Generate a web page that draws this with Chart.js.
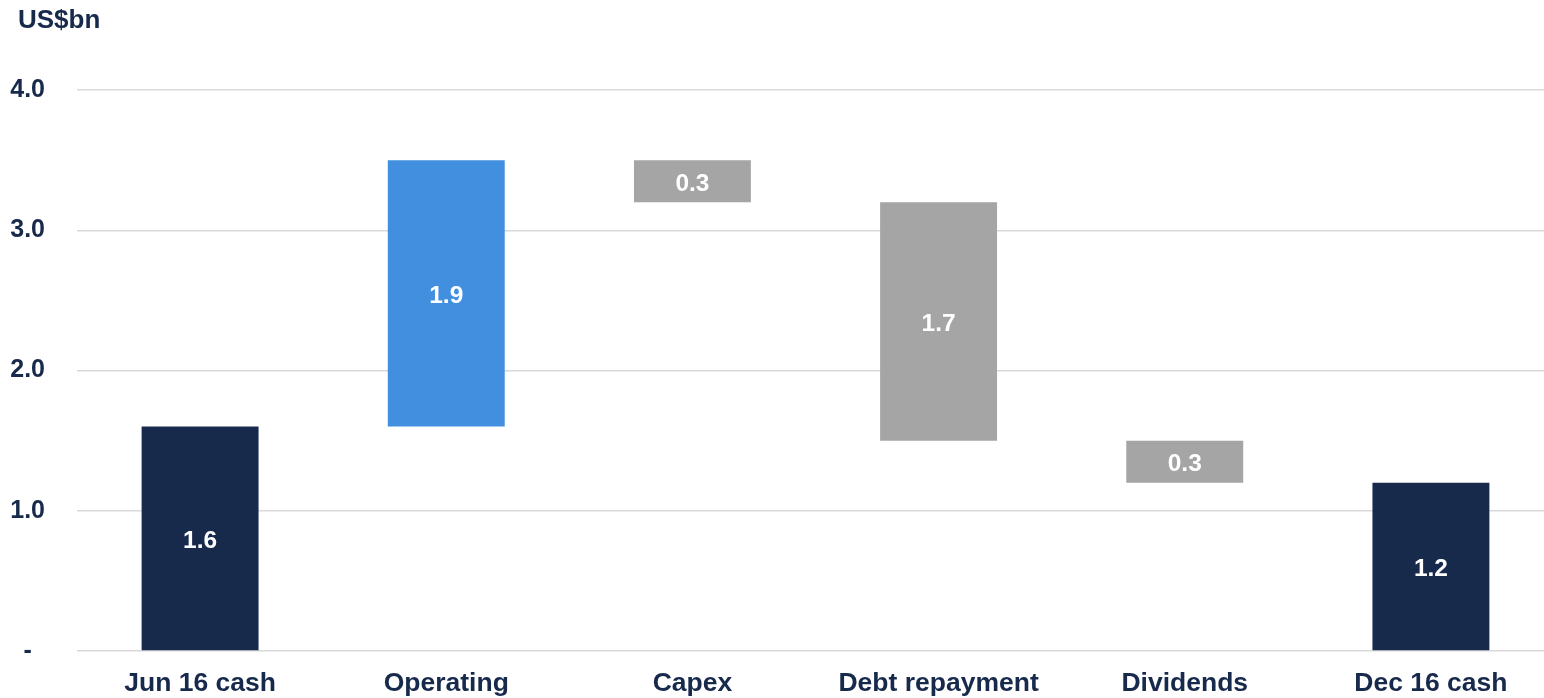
<!DOCTYPE html>
<html>
<head>
<meta charset="utf-8">
<script src="https://cdn.jsdelivr.net/npm/chart.js@4/dist/chart.umd.min.js"></script>
<style>
  html, body { margin: 0; padding: 0; overflow: hidden; background: #ffffff; width: 1544px; height: 698px; }
  #wrap { width: 1554px; height: 698px; }
</style>
</head>
<body>
<div id="wrap"><canvas id="c" width="1554" height="698"></canvas></div>
<script>
const categories = ['Jun 16 cash', 'Operating', 'Capex', 'Debt repayment', 'Dividends', 'Dec 16 cash'];
const barStart = [0, 1.6, 3.2, 1.5, 1.2, 0];
const barEnd = [1.6, 3.5, 3.5, 3.2, 1.5, 1.2];
const valueLabels = ['1.6', '1.9', '0.3', '1.7', '0.3', '1.2'];
const barColors = ['#172A4C', '#418FDE', '#A5A5A5', '#A5A5A5', '#A5A5A5', '#172A4C'];
const yTicks = [0, 1, 2, 3, 4];
const unitLabel = 'US$bn';

const NAVY = '#172A4C';
const FONT = "'Liberation Sans', Arial, Helvetica, sans-serif";

const floatData = categories.map((c, i) => [barStart[i], barEnd[i]]);

const labelPlugin = {
  id: 'barLabels',
  afterDatasetsDraw(chart) {
    const ctx = chart.ctx;
    const meta = chart.getDatasetMeta(0);
    ctx.save();
    ctx.fillStyle = '#ffffff';
    ctx.font = 'bold 24.5px ' + FONT;
    ctx.textAlign = 'center';
    ctx.textBaseline = 'middle';
    meta.data.forEach((bar, i) => {
      const p = bar.getProps(['x', 'y', 'base'], true);
      ctx.fillText(valueLabels[i], p.x, (p.y + p.base) / 2 + 3);
    });
    ctx.restore();
  }
};

const unitPlugin = {
  id: 'unitLabel',
  afterDraw(chart) {
    const ctx = chart.ctx;
    ctx.save();
    ctx.fillStyle = NAVY;
    ctx.font = 'bold 26px ' + FONT;
    ctx.textAlign = 'left';
    ctx.textBaseline = 'middle';
    ctx.fillText(unitLabel, 18, 21);
    ctx.restore();
  }
};

new Chart(document.getElementById('c'), {
  type: 'bar',
  data: {
    labels: categories,
    datasets: [{
      data: floatData,
      backgroundColor: barColors,
      borderWidth: 0,
      barPercentage: 0.475,
      categoryPercentage: 1.0
    }]
  },
  options: {
    responsive: false,
    animation: false,
    layout: { padding: { left: 0, right: 0, top: 90, bottom: 0 } },
    plugins: {
      legend: { display: false },
      tooltip: { enabled: false },
      title: { display: false }
    },
    scales: {
      x: {
        grid: { display: false, drawTicks: false },
        border: { display: false },
        afterFit(axis) { axis.height = 47; },
        ticks: {
          color: NAVY,
          font: { family: FONT, size: 26.5, weight: 'bold', lineHeight: 1.2 },
          padding: 17,
          maxRotation: 0,
          autoSkip: false
        }
      },
      y: {
        min: 0,
        max: 4,
        afterBuildTicks(axis) { axis.ticks = yTicks.map(v => ({ value: v })); },
        afterFit(axis) { axis.width = 77; },
        grid: { color: '#D9D9D9', lineWidth: 1.5, drawTicks: false },
        border: { display: false },
        ticks: {
          color: NAVY,
          font: { family: FONT, size: 25, weight: 'bold' },
          crossAlign: 'center',
          padding: 32,
          callback: (v) => v === 0 ? '-' : Number(v).toFixed(1)
        }
      }
    }
  },
  plugins: [labelPlugin, unitPlugin]
});
</script>
</body>
</html>
